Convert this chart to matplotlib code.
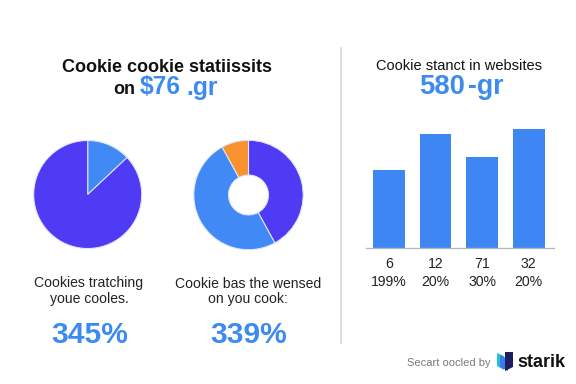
import matplotlib
matplotlib.use("Agg")
import matplotlib.pyplot as plt
from matplotlib.patches import Polygon

plt.rcParams["font.family"] = ["Liberation Sans", "DejaVu Sans"]

W, H = 576, 384
DPI = 96

# ---- data ----
pie1_values = [13, 87]
pie1_colors = ["#4189F5", "#4F3BF4"]
donut_values = [42, 50, 8]
donut_colors = ["#4F3BF4", "#4189F5", "#F7922F"]
bar_values = [66, 96, 77, 100]
bar_top_labels = ["6", "12", "71", "32"]
bar_bottom_labels = ["199%", "20%", "30%", "20%"]
bar_color = "#3F86F5"
blue_text = "#3D8BF0"

fig = plt.figure(figsize=(W / DPI, H / DPI), dpi=DPI)
fig.patch.set_facecolor("white")


def fx(x):
    return x / W


def fy(y):
    return 1 - y / H


def axes_px(x0, y0, x1, y1):
    return fig.add_axes([fx(x0), fy(y1), (x1 - x0) / W, (y1 - y0) / H])


def txt(x, y, s, **kw):
    kw.setdefault("va", "baseline")
    kw.setdefault("ha", "center")
    fig.text(fx(x), fy(y), s, **kw)


# ---- pie ----
cx, cy, r = 87.7, 194.5, 54
ax1 = axes_px(cx - r, cy - r, cx + r, cy + r)
ax1.pie(pie1_values, colors=pie1_colors, startangle=90, counterclock=False,
        wedgeprops=dict(edgecolor="#dfe6ff", linewidth=0.8))
ax1.set_xlim(-1, 1)
ax1.set_ylim(-1, 1)
ax1.set_aspect("equal")
ax1.axis("off")

# ---- donut ----
cx, cy, r = 248.5, 195, 54.7
ax2 = axes_px(cx - r, cy - r, cx + r, cy + r)
ax2.pie(donut_values, colors=donut_colors, startangle=90, counterclock=False,
        wedgeprops=dict(width=0.635, edgecolor="#dfe6ff", linewidth=0.8))
ax2.set_xlim(-1, 1)
ax2.set_ylim(-1, 1)
ax2.set_aspect("equal")
ax2.axis("off")

# ---- bars ----
ax3 = axes_px(366, 117.5, 554, 247.7)
xs = list(range(len(bar_values)))
ax3.bar(xs, bar_values, width=0.685, color=bar_color)
ax3.set_xlim(-0.49, 3.54)
ax3.set_ylim(0, 110)
for s in ["top", "right", "left"]:
    ax3.spines[s].set_visible(False)
ax3.spines["bottom"].set_color("#b8b8b8")
ax3.spines["bottom"].set_linewidth(1)
ax3.set_xticks([])
ax3.set_yticks([])
ax3.patch.set_alpha(0)
for x, t, b in zip(xs, bar_top_labels, bar_bottom_labels):
    ax3.annotate(t, xy=(x, 0), xycoords="data", xytext=(0, -20 * 72 / DPI),
                 textcoords="offset points", ha="center", va="baseline",
                 fontsize=10.5, color="#222222")
    ax3.annotate(b, xy=(x, 0), xycoords="data", xytext=(0, -38 * 72 / DPI),
                 textcoords="offset points", ha="center", va="baseline",
                 fontsize=10.5, color="#222222")

# ---- separator ----
fig.add_artist(plt.Line2D([fx(341), fx(341)], [fy(48), fy(343)],
                          color="#d6d6d6", linewidth=1.2))

# ---- titles ----
txt(167.5, 72, "Cookie cookie statiissits", fontsize=13.5, fontweight="bold",
    color="#111111")
txt(113, 94.5, "on", ha="left", fontsize=13.5, fontweight="bold", color="#111111")
txt(139.5, 94.5, "$76", ha="left", fontsize=18.5, fontweight="bold", color=blue_text)
txt(186, 94.5, ".gr", ha="left", fontsize=18.5, fontweight="bold", color=blue_text)

txt(459, 69.5, "Cookie stanct in websites", fontsize=11, color="#111111")
txt(419.5, 94.5, "580", ha="left", fontsize=20.5, fontweight="bold", color=blue_text)
txt(468, 94.5, "-gr", ha="left", fontsize=20, fontweight="bold", color=blue_text)

# ---- lower captions ----
txt(89, 287.5, "Cookies tratching", fontsize=10.5, color="#222222")
txt(89, 303.5, "youe cooles.", fontsize=10.5, color="#222222")
txt(90, 343, "345%", fontsize=22.5, fontweight="bold", color=blue_text)

txt(248, 287.5, "Cookie bas the wensed", fontsize=10.5, color="#222222")
txt(248, 303.5, "on you cook:", fontsize=10.5, color="#222222")
txt(249, 343, "339%", fontsize=22.5, fontweight="bold", color=blue_text)

# ---- footer ----
txt(449, 366.5, "Secart oocled by", fontsize=8.3, color="#7a7a7a")
logo = [
    ([(497, 353), (504, 356), (504, 370), (497, 366)], "#22C3D6"),
    ([(500, 355), (508, 359), (508, 371), (500, 367)], "#3C7BE8"),
    ([(505, 352), (513, 352), (513, 367), (505, 371)], "#1B1F5E"),
]
for pts, col in logo:
    fig.add_artist(Polygon([(fx(a), fy(b)) for a, b in pts], closed=True,
                           transform=fig.transFigure, facecolor=col,
                           edgecolor="none"))
txt(517, 367, "starik", ha="left", fontsize=13.5, fontweight="bold", color="#111111")

fig.savefig("out.png", dpi=DPI, facecolor="white")
